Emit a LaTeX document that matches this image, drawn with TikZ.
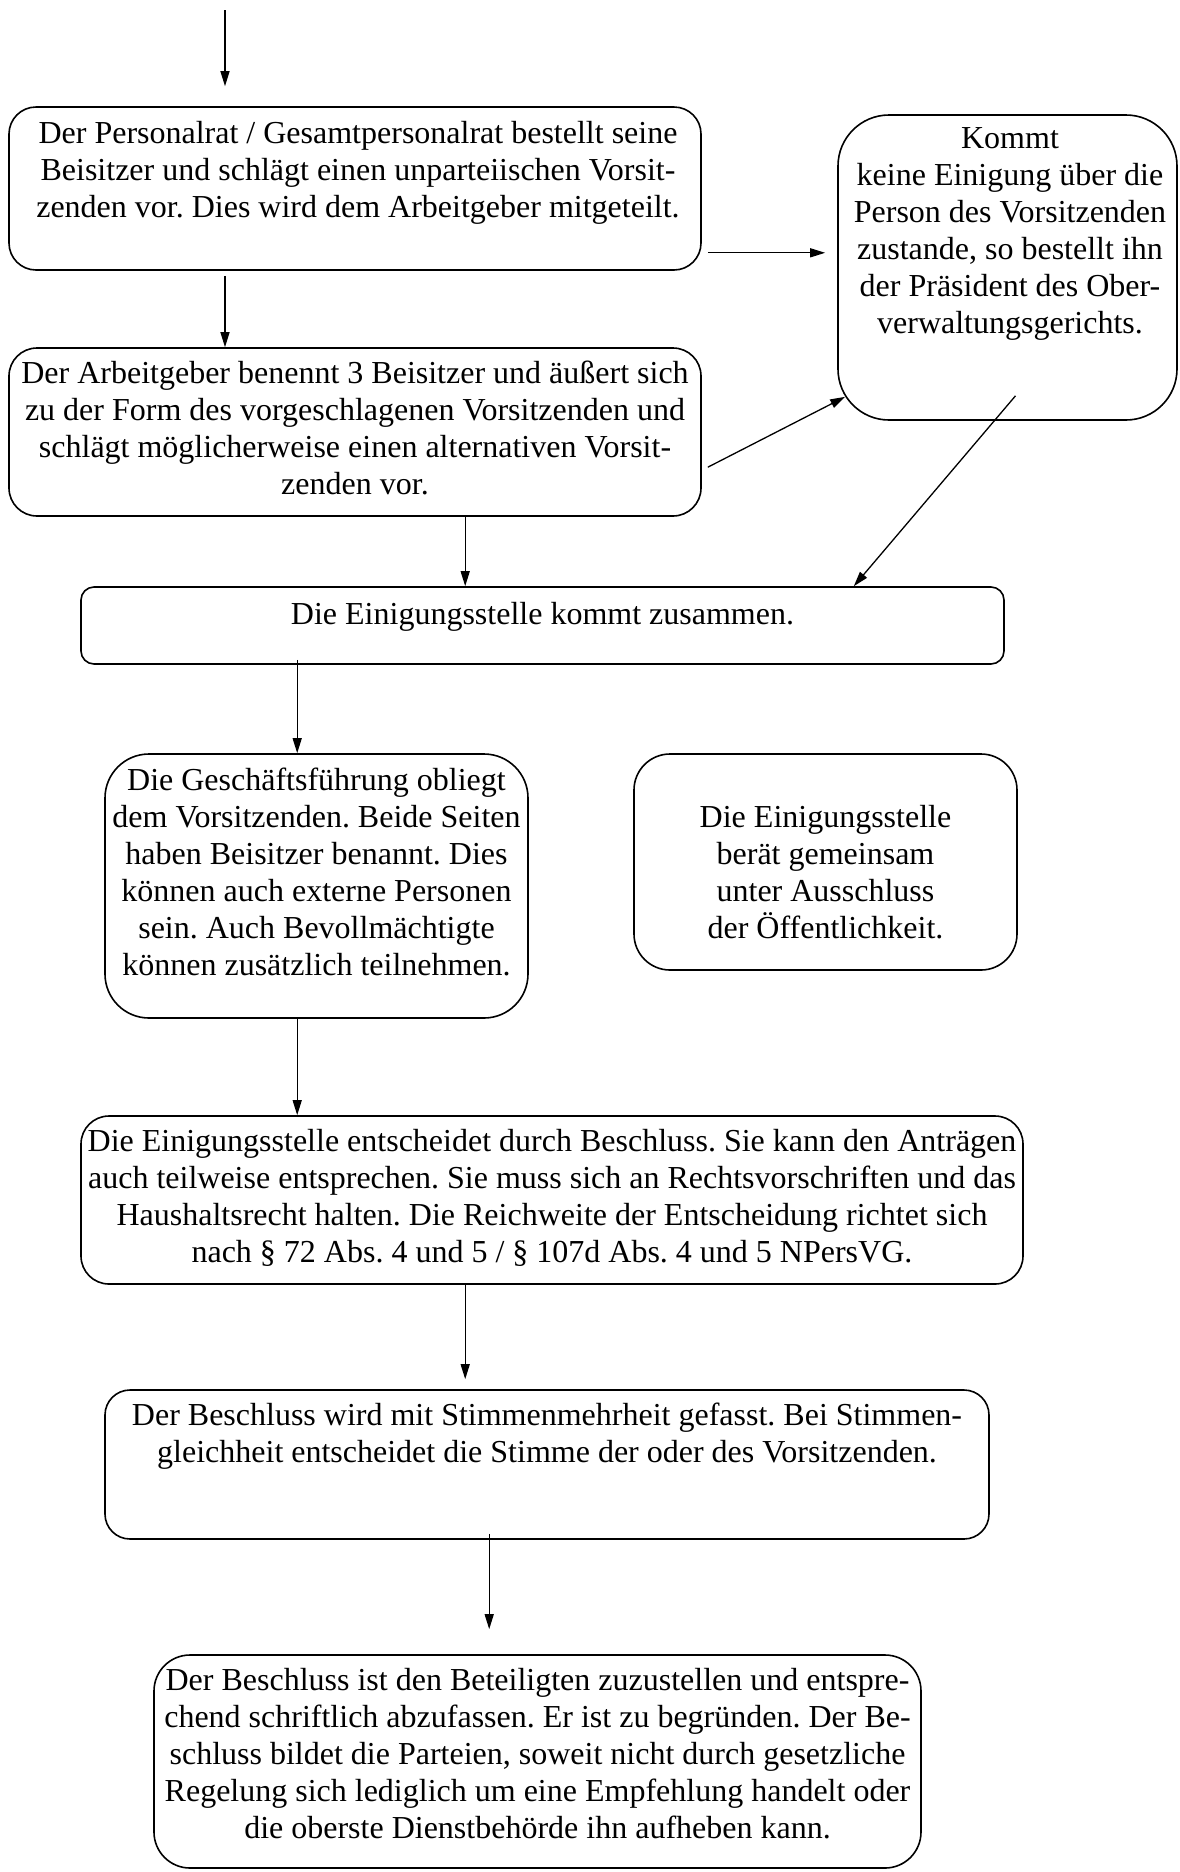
\documentclass[tikz,border=0pt]{standalone}
\usepackage{fontspec}
\setmainfont{Liberation Serif}
\usetikzlibrary{arrows.meta,calc}
\newcommand\fsz{\fontsize{32}{37}\selectfont\frenchspacing}
\begin{document}
\begin{tikzpicture}[x=1pt,y=-1pt,
  box/.style={draw,line width=1.6pt,rounded corners=#1,inner sep=0pt},
  txt/.style={align=center,inner sep=0pt,anchor=north,font=\fsz},
  arr/.style={line width=1.3pt,-{Triangle[length=15pt,width=9pt]}}]
\useasboundingbox (0,0) rectangle (1179,1872);
% boxes
\node[box=27pt,minimum width=692pt,minimum height=163pt] (b1) at (355,188.5) {};
\node[box=28pt,minimum width=692pt,minimum height=168pt] (b2) at (355,432) {};
\node[box=51pt,minimum width=339pt,minimum height=305pt] (k) at (1007.5,267.5) {};
\node[box=13pt,minimum width=923pt,minimum height=77pt] (e) at (542.5,625.5) {};
\node[box=44pt,minimum width=423pt,minimum height=264pt] (g) at (316.5,886) {};
\node[box=36pt,minimum width=383pt,minimum height=216pt] (o) at (825.5,862) {};
\node[box=28pt,minimum width=942pt,minimum height=168pt] (d) at (552,1200) {};
\node[box=25pt,minimum width=884pt,minimum height=149pt] (s) at (547,1464.5) {};
\node[box=36pt,minimum width=767pt,minimum height=213pt] (l) at (537.5,1761.5) {};
% texts
\node[txt] (t1) at (358,117) {\strut Der Personalrat / Gesamtpersonalrat bestellt seine\\Beisitzer und schlägt einen unparteiischen Vorsit-\\zenden vor. Dies wird dem Arbeitgeber mitgeteilt.};
\node[txt] (t2) at (355,357) {\strut Der Arbeitgeber benennt 3 Beisitzer und äußert sich\\zu der Form des vorgeschlagenen Vorsitzenden und\\schlägt möglicherweise einen alternativen Vorsit-\\zenden vor.};
\node[txt] (tk) at (1010,122) {\strut Kommt\\keine Einigung über die\\Person des Vorsitzenden\\zustande, so bestellt ihn\\der Präsident des Ober-\\verwaltungsgerichts.};
\node[txt] (te) at (542.5,598) {\strut Die Einigungsstelle kommt zusammen.};
\node[txt] (tg) at (316.5,764) {\strut Die Geschäftsführung obliegt\\dem Vorsitzenden. Beide Seiten\\haben Beisitzer benannt. Dies\\können auch externe Personen\\sein. Auch Bevollmächtigte\\können zusätzlich teilnehmen.};
\node[txt] (to) at (825.5,801) {\strut Die Einigungsstelle\\berät gemeinsam\\unter Ausschluss\\der Öffentlichkeit.};
\node[txt] (td) at (552,1125) {\strut Die Einigungsstelle entscheidet durch Beschluss. Sie kann den Anträgen\\auch teilweise entsprechen. Sie muss sich an Rechtsvorschriften und das\\Haushaltsrecht halten. Die Reichweite der Entscheidung richtet sich\\nach § 72 Abs. 4 und 5 / § 107d Abs. 4 und 5 NPersVG.};
\node[txt] (ts) at (547,1399) {\strut Der Beschluss wird mit Stimmenmehrheit gefasst. Bei Stimmen-\\gleichheit entscheidet die Stimme der oder des Vorsitzenden.};
\node[txt] (tl) at (537.5,1664) {\strut Der Beschluss ist den Beteiligten zuzustellen und entspre-\\chend schriftlich abzufassen. Er ist zu begründen. Der Be-\\schluss bildet die Parteien, soweit nicht durch gesetzliche\\Regelung sich lediglich um eine Empfehlung handelt oder\\die oberste Dienstbehörde ihn aufheben kann.};
% connectors
\coordinate (top) at (225,10);
\draw[arr,shorten >=20pt] (top) -- (top |- b1.north);
\draw[arr] ($(top |- b1.south)+(0,5)$) -- (top |- b2.north);
\draw[arr] ($(b1.south east)+(6,-18)$) -- ($(k.west |- b1.south)+(-12,-18)$);
\draw[arr] ($(b2.north east)+(6,120)$) -- ($(k.south west)+(8,-24)$);
\draw[arr] ($(k.south)+(8,-25)$) -- ($(e.north east)+(-151,0)$);
\draw[arr] ($(b2.south west)+(457,0)$) -- ($(e.north west)+(385,0)$);
\draw[arr] ($(e.south west)+(217,-5)$) -- ($(g.north west)+(193,0)$);
\draw[arr] ($(g.south west)+(193,0)$) -- ($(d.north west)+(217,0)$);
\draw[arr] ($(d.south west)+(385,0)$) -- ($(s.north west)+(361,-10)$);
\draw[arr] ($(s.south west)+(385,-6)$) -- ($(l.north west)+(336,-25)$);
\end{tikzpicture}
\end{document}
